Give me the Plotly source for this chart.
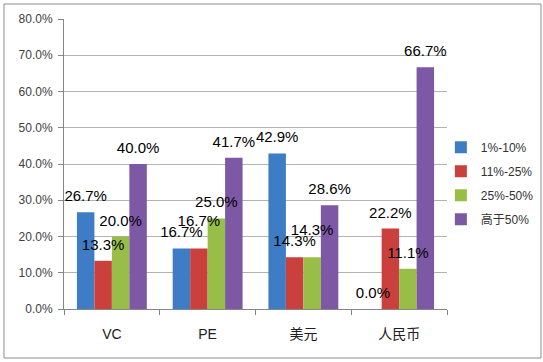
import plotly.graph_objects as go

categories = ["VC", "PE", "美元", "人民币"]
series_names = ["1%-10%", "11%-25%", "25%-50%", "高于50%"]
s1 = [26.7, 16.7, 42.9, 0.0]
s2 = [13.3, 16.7, 14.3, 22.2]
s3 = [20.0, 25.0, 14.3, 11.1]
s4 = [40.0, 41.7, 28.6, 66.7]
colors = ["#3F7CC6", "#C9403C", "#98BE48", "#7D58A5"]
y_ticks = [0, 10, 20, 30, 40, 50, 60, 70, 80]
# labels that the original chart lifted to avoid collisions (series index, category index)
lifted = {(1, 1), (2, 2)}

FONT = "Liberation Sans, Arial, Noto Sans CJK SC, sans-serif"

fig = go.Figure()
all_series = [s1, s2, s3, s4]
for i, (name, vals) in enumerate(zip(series_names, all_series)):
    fig.add_trace(go.Bar(
        x=categories,
        y=[v / 100 for v in vals],
        name=name,
        legendgroup=f"g{i}",
        marker=dict(color=colors[i], line=dict(width=0)),
    ))
# data labels drawn on top of all bars
for i, (name, vals) in enumerate(zip(series_names, all_series)):
    sizes = [28 if (i, j) in lifted else 10 for j in range(len(vals))]
    fig.add_trace(go.Scatter(
        x=categories,
        y=[v / 100 for v in vals],
        mode="markers+text",
        marker=dict(size=sizes, color="rgba(0,0,0,0)", line=dict(width=0)),
        text=[f"{v:.1f}%" for v in vals],
        textposition="top center",
        textfont=dict(family=FONT, size=15, color="#000000"),
        showlegend=False,
        hoverinfo="skip",
        cliponaxis=False,
    ))

fig.update_layout(
    width=543, height=362,
    margin=dict(l=64, r=96, t=19, b=53, autoexpand=False),
    paper_bgcolor="white", plot_bgcolor="white",
    barmode="group", bargap=0.27, bargroupgap=0,
    scattermode="group", scattergap=0.27,
    font=dict(family=FONT, size=12, color="#404040"),
    showlegend=True,
    legend=dict(x=0.984, y=0.608, xanchor="left", yanchor="top",
                font=dict(family=FONT, size=12, color="#333333"),
                tracegroupgap=5, itemwidth=30, bgcolor="rgba(0,0,0,0)"),
    xaxis=dict(showgrid=False, showline=True, linecolor="#868686", linewidth=1,
               ticks="outside", tickson="boundaries", ticklen=5, tickcolor="#868686",
               tickfont=dict(size=14, color="#202020"), ticklabelstandoff=12),
    yaxis=dict(range=[0, 0.8], tickvals=[t / 100 for t in y_ticks], tickformat=".1%",
               showgrid=True, gridcolor="#B3B3B3", gridwidth=1,
               showline=True, linecolor="#868686", linewidth=1,
               ticks="outside", ticklen=5, tickcolor="#868686", ticklabelstandoff=3,
               zeroline=False, tickfont=dict(size=12, color="#404040")),
    shapes=[dict(type="rect", xref="paper", yref="paper",
                 x0=-0.1567, x1=1.2454, y0=-0.169, y1=1.0517,
                 line=dict(color="#8C8C8C", width=1), layer="below")],
)

fig.write_html("out.html", config={"displayModeBar": False},
               post_script="document.body.style.margin='0px';document.body.style.overflow='hidden';")
